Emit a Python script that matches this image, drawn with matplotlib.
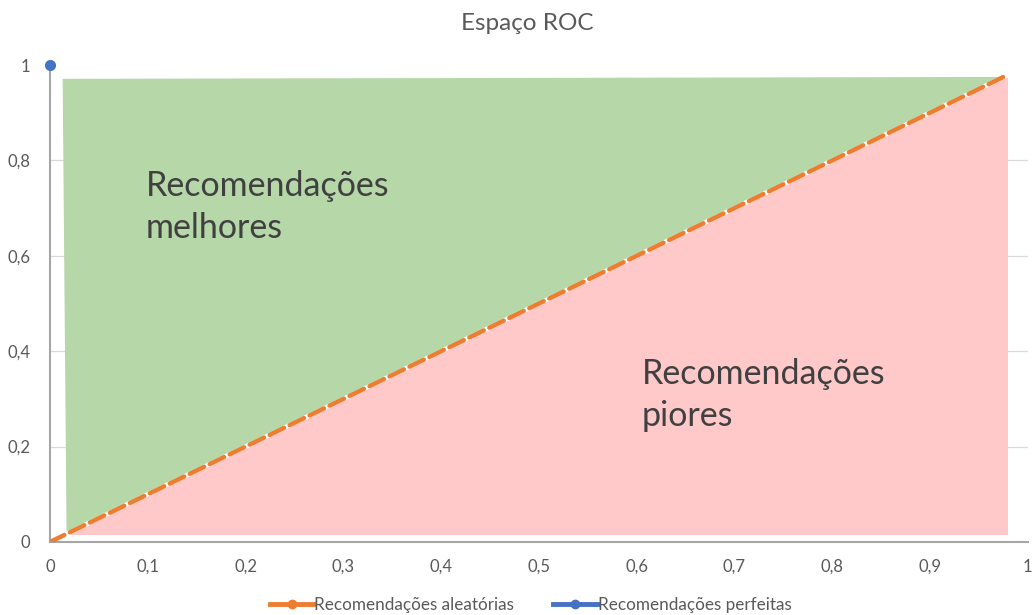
import matplotlib
matplotlib.use("Agg")
import matplotlib.pyplot as plt
from matplotlib.lines import Line2D

plt.rcParams['font.family'] = ['Lato', 'DejaVu Sans']

# ROC space regions
better_x = [0.013, 0.975, 0.017]
better_y = [0.971, 0.975, 0.015]
worse_x = [0.017, 0.98, 0.98]
worse_y = [0.015, 0.015, 0.975]

# Random classifier diagonal and perfect classifier point
random_x = [0.0, 0.98]
random_y = [0.0, 0.98]
perfect_x = [0.0]
perfect_y = [1.0]

x_ticks = [0, 0.1, 0.2, 0.3, 0.4, 0.5, 0.6, 0.7, 0.8, 0.9, 1]
x_tick_labels = ["0", "0,1", "0,2", "0,3", "0,4", "0,5", "0,6", "0,7", "0,8", "0,9", "1"]
y_ticks = [0, 0.2, 0.4, 0.6, 0.8, 1]
y_tick_labels = ["0", "0,2", "0,4", "0,6", "0,8", "1"]

title = "Espaço ROC"
label_better = "Recomendações\nmelhores"
label_worse = "Recomendações\npiores"
series_random = "Recomendações aleatórias"
series_perfect = "Recomendações perfeitas"

orange = "#ED7D31"
blue = "#4472C4"
text_col = "#595959"

fig = plt.figure(figsize=(10.32, 6.15), dpi=100)
ax = fig.add_axes([0.0484, 0.1187, 0.9476, 0.7756])

ax.fill(better_x, better_y, color="#B6D7A8", zorder=1, lw=0)
ax.fill(worse_x, worse_y, color="#FFC9C9", zorder=1, lw=0)

for yv in [0.2, 0.4, 0.6, 0.8]:
    ax.axhline(yv, color="#D9D9D9", lw=0.9, zorder=0.5)

ax.plot(random_x, random_y, color="white", lw=3.2, zorder=2, solid_capstyle="round")
ax.plot(random_x, random_y, color=orange, lw=3.2, zorder=3,
        dashes=(3.6, 1.4), dash_capstyle="round")
ax.plot(perfect_x, perfect_y, marker="o", color=blue, ms=7, zorder=5, clip_on=False, lw=0)

ax.set_xlim(0, 1)
ax.set_ylim(0, 1)
ax.set_xticks(x_ticks)
ax.set_xticklabels(x_tick_labels)
ax.set_yticks(y_ticks)
ax.set_yticklabels(y_tick_labels)
ax.tick_params(length=0, labelsize=12, colors=text_col, pad=12)
ax.tick_params(axis="y", pad=14)

for side in ["top", "right"]:
    ax.spines[side].set_visible(False)
for side in ["left", "bottom"]:
    ax.spines[side].set_color("#A6A6A6")
    ax.spines[side].set_linewidth(1.5)

ax.text(0.098, 0.702, label_better, fontsize=24.5, color="#404040",
        va="center", ha="left", linespacing=1.36)
ax.text(0.605, 0.308, label_worse, fontsize=24.5, color="#404040",
        va="center", ha="left", linespacing=1.36)

fig.text(0.511, 0.962, title, ha="center", va="center", fontsize=17.5, color=text_col)

handles = [
    Line2D([0], [0], color=orange, lw=3.5, marker="o", ms=6),
    Line2D([0], [0], color=blue, lw=3.5, marker="o", ms=6),
]
fig.legend(handles, [series_random, series_perfect], loc="center",
           bbox_to_anchor=(0.514, 0.016), ncol=2, frameon=False,
           fontsize=12.3, labelcolor=text_col, handlelength=2.6,
           handletextpad=0.0, columnspacing=2.3)

fig.savefig("out.png", dpi=100)
